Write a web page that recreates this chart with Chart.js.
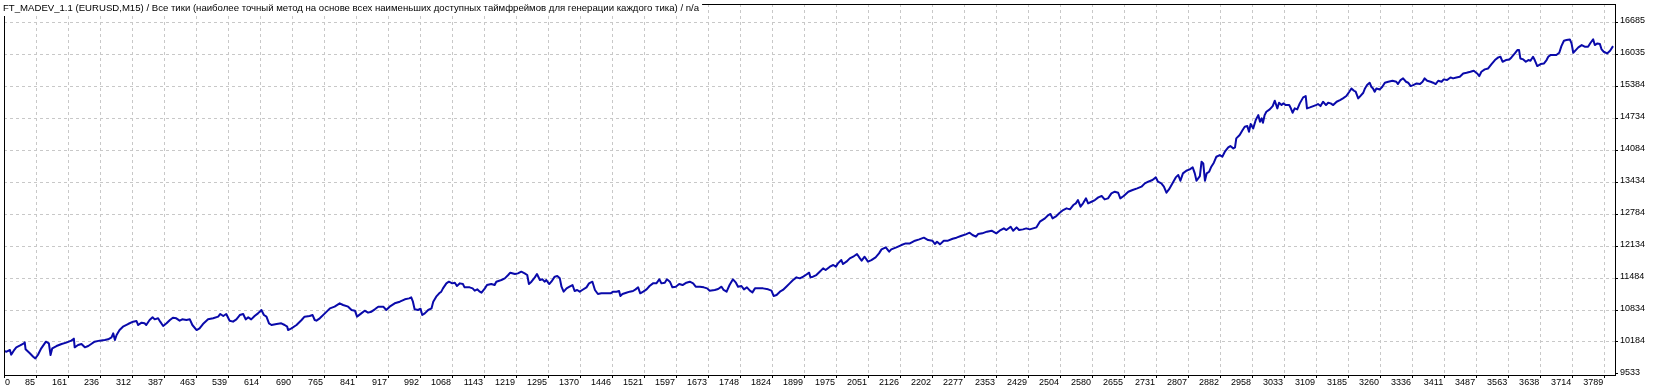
<!DOCTYPE html>
<html>
<head>
<meta charset="utf-8">
<title>FT_MADEV_1.1</title>
<script src="https://cdn.jsdelivr.net/npm/chart.js@4.4.1/dist/chart.umd.min.js"></script>
<style>
  html, body { margin: 0; padding: 0; background: #fff; }
</style>
</head>
<body>
<canvas id="balanceChart" width="1660" height="392"></canvas>
<script>
const chartTitle = "FT_MADEV_1.1 (EURUSD,M15) / Все тики (наиболее точный метод на основе всех наименьших доступных таймфреймов для генерации каждого тика) / n/a";

// trade number / balance
const trades = [
    0, 6, 14, 17, 23, 29, 37, 47, 49, 51,
    61, 69, 74, 80, 88, 99, 106, 110, 114, 124,
    136, 147, 159, 165, 167, 175, 183, 191, 199, 206,
    214, 226, 238, 246, 254, 258, 262, 266, 273, 281,
    293, 305, 313, 317, 325, 332, 336, 344, 351, 356,
    364, 369, 376, 384, 392, 399, 407, 415, 421, 431,
    439, 445, 455, 462, 470, 482, 494, 506, 511, 518,
    525, 533, 541, 549, 557, 565, 571, 577, 584, 592,
    600, 608, 614, 620, 626, 632, 644, 655, 663, 669,
    671, 679, 691, 703, 710, 722, 729, 734, 738, 746,
    758, 770, 781, 793, 801, 813, 821, 829, 834, 844,
    852, 860, 868, 876, 884, 896, 903, 911, 923, 935,
    947, 957,
    962, 966, 970, 978, 984, 988, 994, 1002, 1010, 1014,
    1021, 1028, 1033, 1037, 1045, 1051, 1059, 1065, 1070, 1077,
    1084, 1088, 1100, 1107, 1112, 1118, 1124, 1128, 1136, 1141,
    1151, 1159, 1163, 1175, 1183, 1191, 1196, 1207, 1214, 1222,
    1230, 1236, 1240, 1246, 1254, 1259, 1266, 1272, 1277, 1281,
    1288, 1293, 1301, 1307, 1313, 1317, 1322, 1329, 1336, 1343,
    1348, 1354, 1360, 1366, 1376, 1382, 1390, 1396, 1403, 1411,
    1423, 1433, 1439, 1447, 1453, 1456, 1461, 1470, 1478, 1486,
    1492, 1498, 1503, 1510, 1518, 1525, 1533, 1541, 1548, 1553,
    1561, 1566, 1573, 1579, 1587, 1595, 1603, 1612, 1620, 1628,
    1634, 1644, 1653, 1661, 1667, 1679, 1687, 1695, 1700, 1707,
    1714, 1722, 1729, 1734, 1742, 1748, 1755, 1762, 1768, 1774,
    1781, 1793, 1805, 1813, 1818, 1825, 1833, 1840, 1848, 1856,
    1864, 1872, 1880, 1888, 1894, 1902,
    1905, 1911, 1919, 1927, 1935, 1941, 1951, 1959, 1965, 1970,
    1978, 1982, 1990, 1998, 2006, 2015, 2022, 2026, 2033, 2041,
    2049, 2059, 2067, 2073, 2083, 2091, 2096, 2108, 2120, 2130,
    2140, 2152, 2162, 2173, 2183, 2193, 2199, 2204, 2211, 2220,
    2230, 2241, 2250, 2262, 2272, 2281, 2288, 2296, 2301, 2311,
    2322, 2333, 2344, 2352, 2362, 2368, 2378, 2384, 2392, 2398,
    2407, 2415, 2423, 2431, 2439, 2447, 2459, 2467, 2472, 2477,
    2486, 2494, 2502, 2510, 2518, 2526, 2532, 2537, 2543, 2549,
    2556, 2561, 2569, 2577, 2585, 2593, 2600, 2608, 2616, 2624,
    2632, 2637, 2645, 2656, 2666, 2677, 2687, 2695, 2703, 2713,
    2721, 2726, 2734, 2740, 2746, 2752, 2760, 2768, 2774, 2779,
    2785, 2793, 2801, 2808, 2813, 2817,
    2825, 2829, 2833, 2837, 2841, 2847, 2852, 2858, 2864, 2872,
    2878, 2884, 2892, 2897, 2904, 2908, 2911, 2919, 2926, 2931,
    2937, 2941, 2945, 2951, 2957, 2963, 2967, 2971, 2974, 2978,
    2982, 2990, 2997, 3002, 3008, 3012, 3018, 3022, 3028, 3036,
    3039, 3044, 3049, 3055, 3061, 3069, 3075, 3078, 3085, 3093,
    3099, 3104, 3110, 3116, 3123, 3128, 3134, 3140, 3148, 3156,
    3163, 3171, 3178, 3183, 3189, 3193, 3199, 3204, 3211, 3215,
    3220, 3226, 3230, 3234, 3238, 3242, 3250, 3256, 3262, 3270,
    3280, 3289, 3293, 3299, 3305, 3312, 3317, 3323, 3329, 3337,
    3345, 3351, 3356, 3362, 3370, 3376, 3382, 3388, 3396, 3401,
    3409, 3417, 3423, 3431, 3439, 3447, 3455, 3464, 3472, 3480,
    3485, 3490, 3498, 3506, 3514, 3522, 3530, 3535, 3540, 3548,
    3556, 3561, 3569, 3575, 3579, 3582, 3589, 3595, 3601, 3606,
    3612, 3616, 3622, 3630, 3638, 3644, 3648, 3653, 3660, 3667,
    3674, 3679, 3685, 3691, 3699, 3703, 3707, 3713, 3719, 3727,
    3734, 3742, 3748, 3754, 3758, 3764, 3770, 3774, 3779, 3787,
    3794, 3801
];

const balance = [
    10000, 9987, 10021, 9926, 10007, 10075, 10109, 10156, 10177, 10034,
    9953, 9885, 9851, 9919, 10055, 10190, 10156, 9919, 10055, 10102,
    10143, 10170, 10211, 10251, 10075, 10123, 10143, 10075, 10102, 10143,
    10190, 10211, 10224, 10238, 10278, 10360, 10224, 10326, 10427, 10495,
    10549, 10597, 10610, 10529, 10576, 10563, 10529, 10631, 10685, 10644,
    10665, 10597, 10509, 10563, 10631, 10678, 10665, 10617, 10644, 10631,
    10644, 10529, 10427, 10461, 10549, 10644, 10665, 10699, 10753, 10712,
    10753, 10617, 10597, 10644, 10732, 10753, 10644, 10685, 10644, 10712,
    10766, 10834, 10732, 10699, 10563, 10529, 10549, 10563, 10529, 10495,
    10427, 10461, 10529, 10631, 10699, 10712, 10732, 10631, 10617, 10665,
    10766, 10868, 10902, 10970, 10936, 10902, 10834, 10820, 10699, 10766,
    10820, 10780, 10800, 10848, 10902, 10902, 10834, 10902, 10970, 11003,
    11051, 11071,
    11091, 11003, 10848, 10834, 10861, 10732, 10766, 10834, 10868, 11003,
    11105, 11173, 11207, 11274, 11376, 11410, 11376, 11390, 11322, 11376,
    11362, 11295, 11295, 11274, 11227, 11254, 11207, 11186, 11274, 11342,
    11362, 11342, 11410, 11444, 11478, 11546, 11593, 11566, 11579, 11613,
    11579, 11546, 11362, 11410, 11498, 11566, 11444, 11458, 11410, 11444,
    11362, 11410, 11512, 11525, 11478, 11308, 11207, 11274, 11308, 11342,
    11220, 11241, 11207, 11241, 11295, 11376, 11410, 11241, 11159, 11173,
    11173, 11173, 11207, 11207, 11220, 11119, 11159, 11186, 11207, 11220,
    11254, 11295, 11173, 11207, 11254, 11322, 11376, 11376, 11458, 11376,
    11390, 11458, 11410, 11295, 11308, 11362, 11342, 11390, 11410, 11376,
    11308, 11308, 11295, 11274, 11227, 11241, 11261, 11308, 11241, 11207,
    11342, 11458, 11390, 11308, 11322, 11254, 11295, 11227, 11193, 11274,
    11274, 11274, 11254, 11227, 11119, 11139, 11207, 11241, 11308, 11376,
    11444, 11498, 11478, 11512, 11546, 11593,
    11498, 11512, 11545, 11613, 11681, 11647, 11715, 11749, 11715, 11783,
    11850, 11769, 11817, 11884, 11918, 11972, 11884, 11837, 11918, 11817,
    11850, 11905, 11986, 12067, 12108, 12020, 12067, 12108, 12155, 12189,
    12189, 12244, 12271, 12305, 12257, 12244, 12176, 12223, 12169, 12244,
    12244, 12284, 12305, 12345, 12372, 12406, 12359, 12325, 12379, 12393,
    12427, 12447, 12393, 12447, 12494, 12460, 12528, 12447, 12515, 12460,
    12474, 12494, 12474, 12494, 12515, 12630, 12698, 12765, 12786, 12698,
    12745, 12813, 12867, 12901, 12881, 12969, 13003, 13070, 12935, 13003,
    13104, 13003, 13036, 13070, 13125, 13152, 13084, 13104, 13206, 13240,
    13219, 13104, 13152, 13240, 13274, 13308, 13342, 13409, 13443, 13477,
    13531, 13443, 13409, 13342, 13219, 13287, 13409, 13531, 13579, 13463,
    13613, 13667, 13694, 13734, 13613, 13463,
    13558, 13850, 13816, 13463, 13612, 13646, 13748, 13829, 13951, 13985,
    13951, 14053, 14141, 14168, 14121, 14141, 14324, 14392, 14494, 14561,
    14575, 14460, 14615, 14527, 14697, 14798, 14663, 14731, 14643, 14798,
    14866, 14914, 14981, 15090, 14934, 15049, 15002, 15036, 15002, 15002,
    14954, 14846, 14934, 14914, 15036, 15158, 15185, 14934, 14954, 14981,
    15002, 15022, 14981, 15069, 15002, 15049, 15036, 15002, 15069, 15103,
    15137, 15185, 15273, 15340, 15293, 15273, 15137, 15185, 15252, 15340,
    15408, 15456, 15374, 15340, 15273, 15340, 15320, 15374, 15456, 15476,
    15496, 15476, 15429, 15510, 15544, 15476, 15456, 15388, 15408, 15442,
    15429, 15476, 15544, 15496, 15476, 15456, 15429, 15496, 15476, 15524,
    15510, 15564, 15544, 15564, 15578, 15645, 15659, 15679, 15700, 15645,
    15591, 15679, 15727, 15747, 15835, 15917, 15971, 15984, 15883, 15917,
    15930, 15971, 16052, 16120, 16120, 15950, 15930, 15883, 15917, 15903,
    15984, 15917, 15795, 15835, 15849, 15917, 15984, 16018, 16018, 16018,
    16066, 16201, 16310, 16323, 16337, 16255, 16066, 16120, 16174, 16222,
    16188, 16188, 16269, 16337, 16222, 16255, 16242, 16133, 16086, 16052,
    16106, 16201
];

const xTickLabels = [
    "0", "85", "161", "236", "312", "387", "463", "539", "614", "690",
    "765", "841", "917", "992", "1068", "1143", "1219", "1295", "1370", "1446",
    "1521", "1597", "1673", "1748", "1824", "1899", "1975", "2051", "2126", "2202",
    "2277", "2353", "2429", "2504", "2580", "2655", "2731", "2807", "2882", "2958",
    "3033", "3109", "3185", "3260", "3336", "3411", "3487", "3563", "3638", "3714",
    "3789"
];
const yTickValues = [9533, 10184, 10834, 11484, 12134, 12784, 13434, 14084, 14734, 15384, 16035, 16685];

const xStep = 75.6;   // trades per grid cell
const xMax = 3808;
const yMin = 9492;
const yMax = 17057;
const gridColor = "#c8c8c8";
const tickFont = { family: "'Liberation Sans', Arial, sans-serif", size: 9, lineHeight: 1 };

// frame, the "0" label and the title box on top of everything
const frameAndTitle = {
    id: "frameAndTitle",
    afterDraw(chart) {
        const { ctx, chartArea: a } = chart;
        ctx.save();
        ctx.strokeStyle = "#000";
        ctx.lineWidth = 1;
        ctx.strokeRect(a.left + 0.5, a.top + 0.5, a.right - a.left - 1, a.bottom - a.top - 1);

        // first x label is drawn to the right of its tick, the rest to the left
        ctx.font = "9px 'Liberation Sans', Arial, sans-serif";
        ctx.fillStyle = "#000";
        ctx.textAlign = "left";
        ctx.textBaseline = "middle";
        ctx.fillText(xTickLabels[0], a.left + 1, a.bottom + 6.5);

        ctx.font = "9.6px 'Liberation Sans', Arial, sans-serif";
        const w = ctx.measureText(chartTitle).width;
        ctx.fillStyle = "#fff";
        ctx.fillRect(0, 0, w + 6, 16);
        ctx.fillStyle = "#000";
        ctx.textBaseline = "alphabetic";
        ctx.fillText(chartTitle, 3, 11);
        ctx.restore();
    }
};

const ctx = document.getElementById("balanceChart").getContext("2d");
new Chart(ctx, {
    type: "line",
    data: {
        datasets: [{
            label: "Balance",
            data: trades.map((t, i) => ({ x: t, y: balance[i] })),
            borderColor: "#0a0aaa",
            borderWidth: 2,
            borderJoinStyle: "round",
            pointRadius: 0,
            tension: 0,
            fill: false
        }]
    },
    options: {
        responsive: false,
        animation: false,
        layout: { padding: { left: 4, top: 4, right: 0, bottom: 0 } },
        plugins: {
            legend: { display: false },
            tooltip: { enabled: false }
        },
        scales: {
            x: {
                type: "linear",
                min: 0,
                max: xMax,
                afterBuildTicks: s => { s.ticks = xTickLabels.map((l, i) => ({ value: i * xStep })); },
                afterFit: s => { s.height = 16; s.paddingLeft = 0; s.paddingRight = 0; },
                ticks: {
                    autoSkip: false,
                    maxRotation: 0,
                    align: "end",
                    labelOffset: -1,
                    padding: 0,
                    color: "#000",
                    font: tickFont,
                    callback: (v, i) => (i === 0 ? "" : xTickLabels[i])
                },
                grid: { color: gridColor, tickColor: "#000", tickLength: 2, lineWidth: 1 },
                border: { display: false, dash: [3, 3] }
            },
            y: {
                type: "linear",
                position: "right",
                min: yMin,
                max: yMax,
                afterBuildTicks: s => { s.ticks = yTickValues.map(v => ({ value: v })); },
                afterFit: s => { s.width = 44; s.paddingTop = 0; s.paddingBottom = 0; },
                ticks: {
                    padding: 2,
                    labelOffset: -1.5,
                    color: "#000",
                    font: tickFont,
                    callback: v => String(v)
                },
                grid: {
                    color: c => (c.tick && c.tick.value === yTickValues[0] ? "rgba(0,0,0,0)" : gridColor),
                    tickColor: "#000",
                    tickLength: 2,
                    lineWidth: 1
                },
                border: { display: false, dash: [3, 3] }
            }
        }
    },
    plugins: [frameAndTitle]
});
</script>
</body>
</html>
